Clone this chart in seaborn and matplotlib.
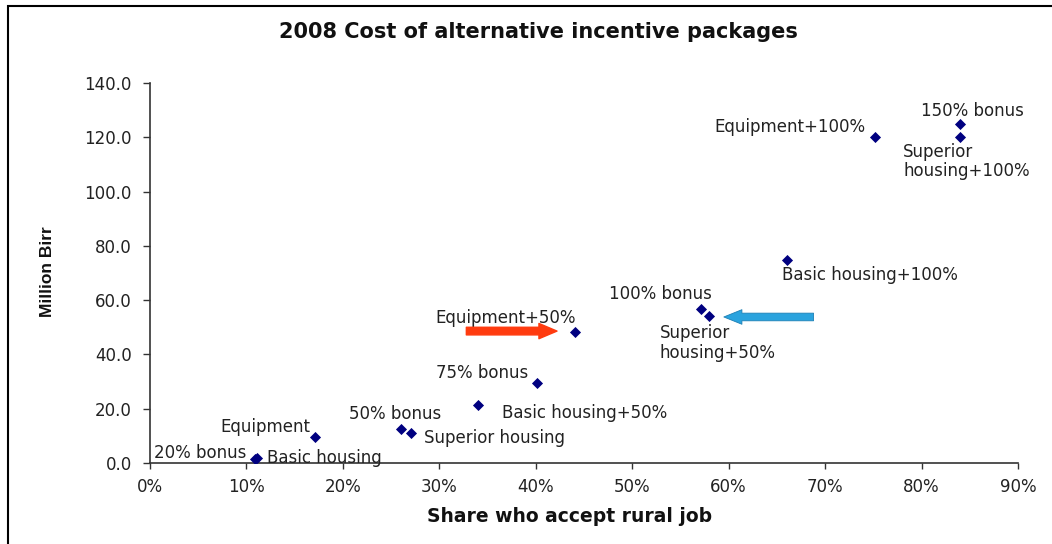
import matplotlib
matplotlib.use("Agg")
import matplotlib.pyplot as plt
import seaborn as sns
import pandas as pd
from matplotlib.patches import Rectangle

labels = ["20% bonus", "Basic housing", "Equipment", "50% bonus", "Superior housing",
          "Basic housing+50%", "75% bonus", "Equipment+50%", "100% bonus",
          "Superior\nhousing+50%", "Basic housing+100%", "Equipment+100%",
          "150% bonus", "Superior\nhousing+100%"]
share = [10.9, 11.1, 17.1, 26.0, 27.1, 34.0, 40.1, 44.1, 57.1, 58.0, 66.1, 75.2, 84.0, 84.0]
cost = [1.3, 2.0, 9.6, 12.5, 11.1, 21.4, 29.5, 48.3, 56.7, 54.2, 74.8, 120.1, 124.9, 120.1]

# label offsets (points) and alignment
offsets = [(-73, 5), (7, 0), (-3, 7), (-4, 11), (9, -4), (17, -6), (-6, 7), (-50, 10),
           (-29, 11), (-36, -6), (-4, -11), (-7, 7), (9, 9), (-41, -4)]
has = ["left", "left", "right", "center", "left", "left", "right", "center",
       "center", "left", "left", "right", "center", "left"]
vas = ["center", "center", "center", "center", "center", "center", "center", "center",
       "center", "top", "center", "center", "center", "top"]

x_ticks = [0, 10, 20, 30, 40, 50, 60, 70, 80, 90]
y_ticks = [0, 20, 40, 60, 80, 100, 120, 140]

df = pd.DataFrame({"share": share, "cost": cost, "label": labels})

sns.set_style("white")
plt.rcParams["font.family"] = ["DejaVu Sans"]

fig = plt.figure(figsize=(10.52, 5.44), dpi=100)
ax = fig.add_axes([150/1052, 1-463/544, (1018-150)/1052, (463-83)/544])

sns.scatterplot(data=df, x="share", y="cost", marker="D", s=32, color="#000080",
                edgecolor="#000080", linewidth=0, ax=ax, zorder=3)

for lab, xv, yv, off, ha, va in zip(labels, share, cost, offsets, has, vas):
    ax.annotate(lab, (xv, yv), xytext=off, textcoords="offset points",
                ha=ha, va=va, fontsize=12, color="#222222", linespacing=1.1)

# arrows
ax.annotate("", xy=(42.2, 48.6), xytext=(32.8, 48.6),
            arrowprops=dict(arrowstyle="simple,head_length=13,head_width=11,tail_width=5.5",
                            mutation_scale=1, color="#FF3B0F", shrinkA=0, shrinkB=0))
ax.annotate("", xy=(59.5, 53.8), xytext=(68.8, 53.8),
            arrowprops=dict(arrowstyle="simple,head_length=13,head_width=10.5,tail_width=5.5",
                            mutation_scale=1, facecolor="#2AA3DE", edgecolor="#1C7FB5",
                            linewidth=0.6, shrinkA=0, shrinkB=0))

ax.set_xlim(0, 90)
ax.set_ylim(0, 140)
ax.set_xticks(x_ticks)
ax.set_xticklabels([f"{t}%" for t in x_ticks])
ax.set_yticks(y_ticks)
ax.set_yticklabels([f"{t:.1f}" for t in y_ticks])
ax.tick_params(axis="x", which="major", direction="out", length=4, width=1,
               color="#333333", labelsize=12, labelcolor="#222222", pad=7, bottom=True)
ax.tick_params(axis="y", which="major", direction="out", length=5, width=1,
               color="#333333", labelsize=12, labelcolor="#222222", pad=8, left=True)
for s in ["top", "right"]:
    ax.spines[s].set_visible(False)
for s in ["left", "bottom"]:
    ax.spines[s].set_color("#333333")
    ax.spines[s].set_linewidth(1.2)
ax.set_xlabel("")
ax.set_ylabel("")

fig.text(538/1052, 1-32/544, "2008 Cost of alternative incentive packages",
         ha="center", va="center", fontsize=15, fontweight="bold", color="#111111")
fig.text(570/1052, 1-517/544, "Share who accept rural job",
         ha="center", va="center", fontsize=13.5, fontweight="bold", color="#111111")
fig.text(47/1052, 1-272/544, "Million Birr", rotation=90, ha="center", va="center",
         fontsize=12.5, fontweight="bold", color="#111111",
         family=["Liberation Sans Narrow", "Liberation Sans", "DejaVu Sans"])

fig.patches.append(Rectangle((8/1052, -0.05), 1.2, 1-6/544+0.05,
                             transform=fig.transFigure, fill=False,
                             edgecolor="black", linewidth=1.5))

fig.savefig("out.png", dpi=100)
